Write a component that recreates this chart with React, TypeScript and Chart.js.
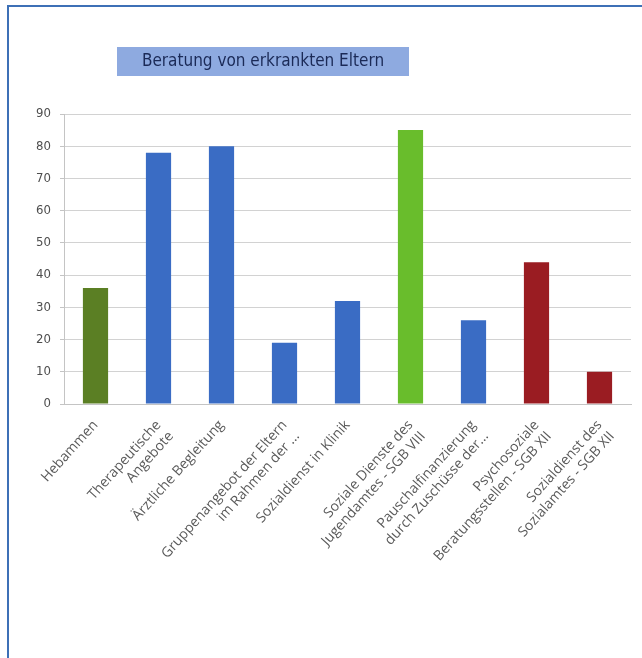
import React, { useEffect, useRef } from "react";
import { Chart, registerables } from "chart.js";

Chart.register(...registerables);

const TITLE = "Beratung von erkrankten Eltern";

const categories: (string | string[])[] = [
  "Hebammen",
  ["Therapeutische", "Angebote"],
  "Ärztliche Begleitung",
  ["Gruppenangebot der Eltern", "im Rahmen der ..."],
  "Sozialdienst in Klinik",
  ["Soziale Dienste des", "Jugendamtes - SGB VIII"],
  ["Pauschalfinanzierung", "durch Zuschüsse der..."],
  ["Psychosoziale", "Beratungsstellen - SGB XII"],
  ["Sozialdienst des", "Sozialamtes - SGB XII"],
];

const values: number[] = [36, 78, 80, 19, 32, 85, 26, 44, 10];

const barColors: string[] = [
  "#5b7f24",
  "#3a6cc4",
  "#3a6cc4",
  "#3a6cc4",
  "#3a6cc4",
  "#69bd2c",
  "#3a6cc4",
  "#9a1c22",
  "#9a1c22",
];

const yMin = 0;
const yMax = 90;
const yStep = 10;

const decorPlugin = {
  id: "decor",
  beforeDraw(chart: any) {
    const ctx = chart.ctx;
    ctx.save();
    ctx.fillStyle = "#ffffff";
    ctx.fillRect(0, 0, chart.width, chart.height);
    // frame lines (left and top)
    ctx.strokeStyle = "#3d70b6";
    ctx.lineWidth = 2;
    ctx.beginPath();
    ctx.moveTo(8, chart.height);
    ctx.lineTo(8, 6);
    ctx.lineTo(chart.width, 6);
    ctx.stroke();
    // title box
    ctx.fillStyle = "#8eaae0";
    ctx.fillRect(117, 47, 292, 29);
    ctx.fillStyle = "#1b2a57";
    ctx.font = "17px 'DejaVu Sans Condensed', 'DejaVu Sans', sans-serif";
    ctx.textAlign = "center";
    ctx.textBaseline = "middle";
    ctx.fillText(TITLE, 263, 62);
    ctx.restore();
  },
};

export default function App() {
  const ref = useRef<HTMLCanvasElement>(null);

  useEffect(() => {
    document.body.style.margin = "0";
    const canvas = ref.current;
    if (!canvas) return;
    const chart = new Chart(canvas, {
      type: "bar",
      data: {
        labels: categories,
        datasets: [
          {
            data: values,
            backgroundColor: barColors,
            borderWidth: 0,
            barPercentage: 0.4,
            categoryPercentage: 1,
          },
        ],
      },
      options: {
        responsive: false,
        animation: false,
        layout: { padding: { top: 114, right: 11, bottom: 0, left: 0 } },
        plugins: {
          legend: { display: false },
          title: { display: false },
          tooltip: { enabled: false },
        },
        scales: {
          x: {
            grid: { display: false },
            border: { color: "#c4c4c4", width: 1 },
            ticks: {
              color: "#5a5a5a",
              font: { family: "'Open Sans', sans-serif", size: 14 },
              minRotation: 48,
              maxRotation: 48,
              autoSkip: false,
              padding: 5,
            },
            afterFit(scale: any) {
              scale.height = 254;
            },
          },
          y: {
            min: yMin,
            max: yMax,
            ticks: {
              stepSize: yStep,
              color: "#4e4e4e",
              font: { family: "'DejaVu Sans Condensed', 'DejaVu Sans', sans-serif", size: 13 },
              padding: 9,
            },
            grid: { color: "#d2d2d2", tickLength: 4, tickColor: "#c4c4c4" },
            border: { color: "#c4c4c4", width: 1 },
            afterFit(scale: any) {
              scale.width = 64;
            },
          },
        },
      },
      plugins: [decorPlugin],
    });
    return () => chart.destroy();
  }, []);

  return (
    <div style={{ width: 642, height: 658 }}>
      <canvas ref={ref} width={642} height={658} style={{ display: "block" }} />
    </div>
  );
}
